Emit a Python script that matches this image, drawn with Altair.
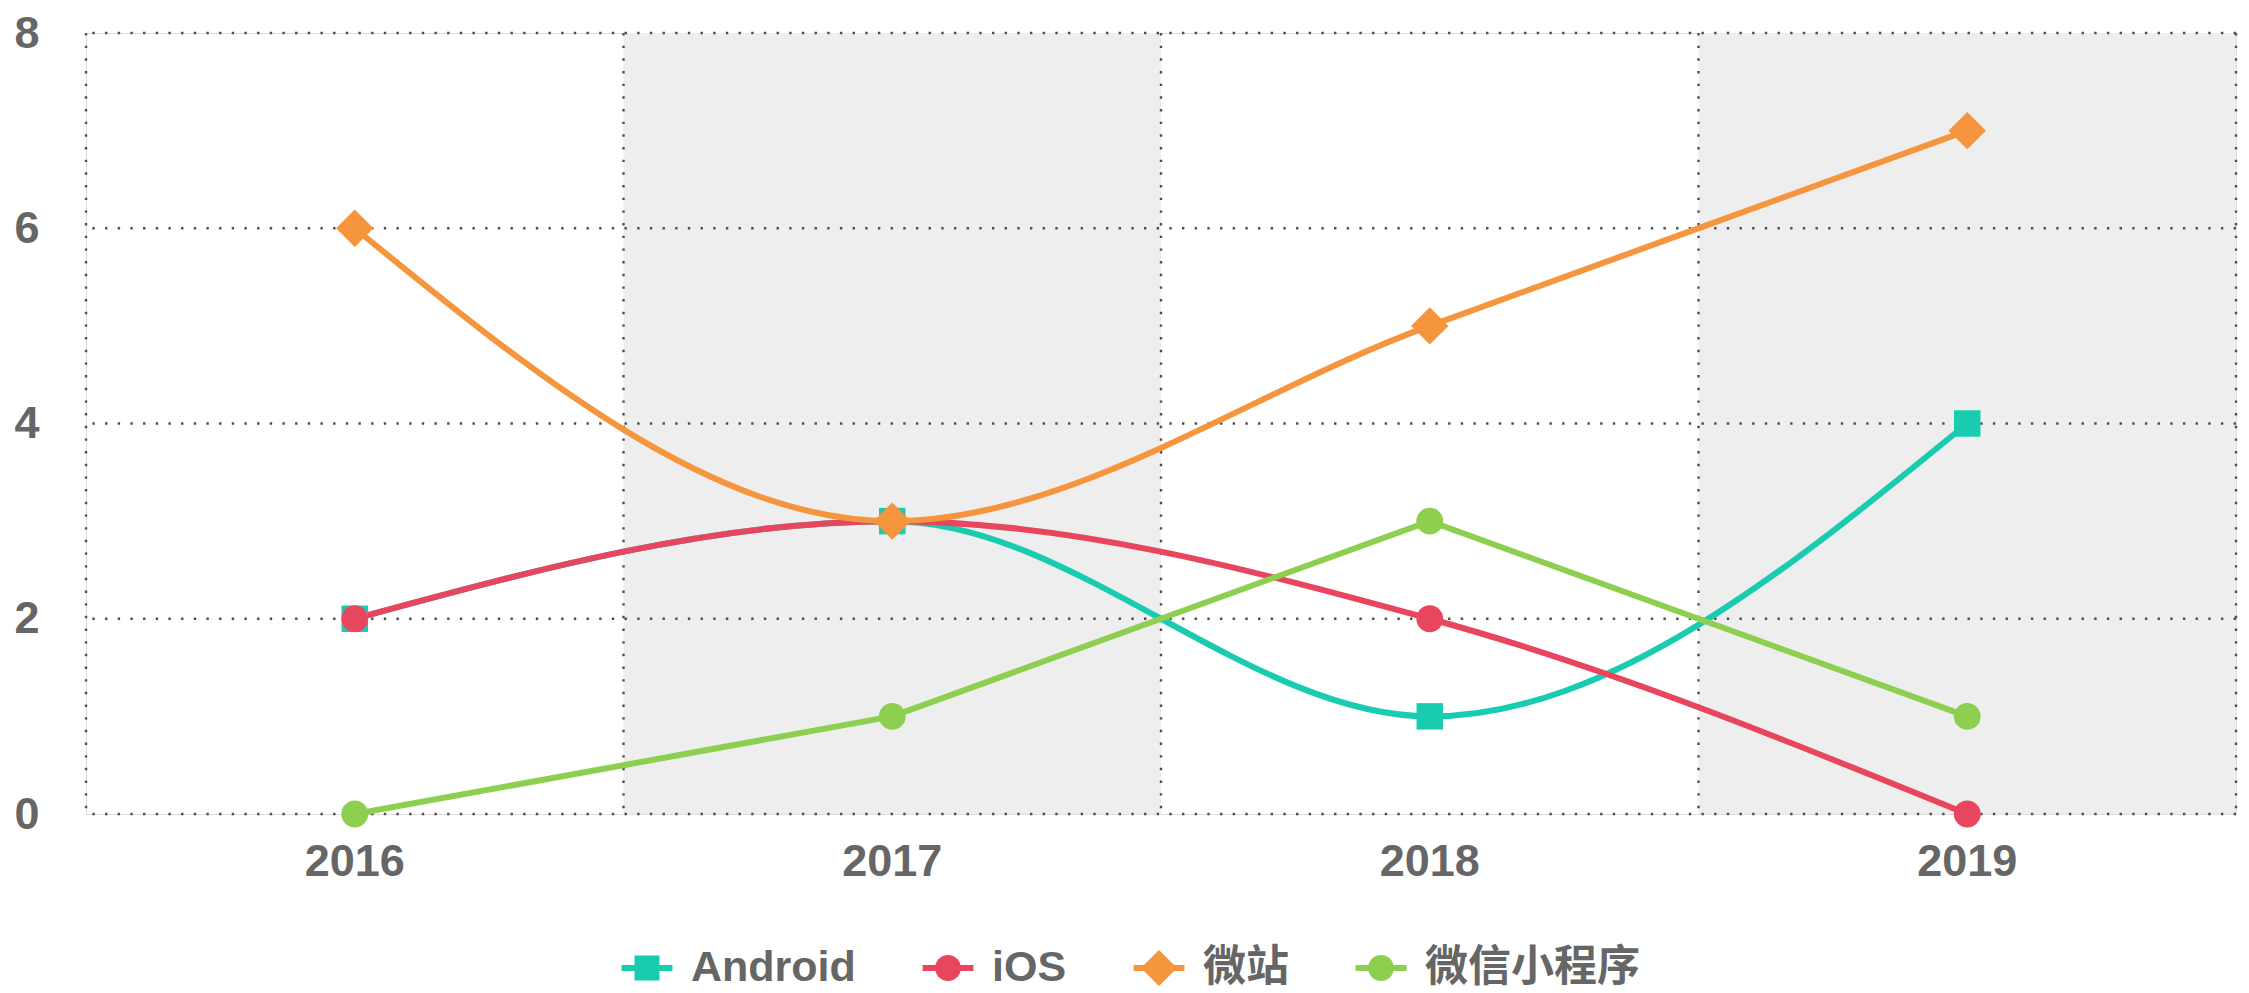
import altair as alt
import pandas as pd

years = ["2016", "2017", "2018", "2019"]
series = ["Android", "iOS", "微站", "微信小程序"]
android = [2, 3, 1, 4]
ios = [2, 3, 2, 0]
weizhan = [6, 3, 5, 7]
miniprog = [0, 1, 3, 1]
shaded_years = ["2017", "2019"]
y_ticks = [0, 2, 4, 6, 8]

colors = ["#1ACCAF", "#E8465F", "#F5963F", "#8DCF4F"]
marker_shapes = ["square", "circle", "diamond", "circle"]
marker_sizes = [700, 720, 1400, 720]
curved = [True, True, True, False]

# legend symbols: line through marker (custom paths in [-1,1] units)
bar = "M-1.06,-0.125H1.06V0.125H-1.06Z "
legend_paths = [
    bar + "M-0.52,-0.52H0.52V0.52H-0.52Z",
    bar + "M-0.54,0A0.54,0.54 0 1,1 0.54,0A0.54,0.54 0 1,1 -0.54,0Z",
    bar + "M0,-0.75L0.75,0L0,0.75L-0.75,0Z",
    bar + "M-0.54,0A0.54,0.54 0 1,1 0.54,0A0.54,0.54 0 1,1 -0.54,0Z",
]

rows = []
for name, vals in zip(series, [android, ios, weizhan, miniprog]):
    for yr, v in zip(years, vals):
        rows.append({"year": yr, "series": name, "value": v})
df = pd.DataFrame(rows)
years_df = pd.DataFrame({"year": years})
shade_df = pd.DataFrame({"year": shaded_years})
ytick_df = pd.DataFrame({"value": y_ticks})
last_df = pd.DataFrame({"year": years[-1:]})

FONT = "Liberation Sans, Arial, Noto Sans CJK SC"
GRID = "#4d4d4d"
DASH = [2.4, 10.27]
FS = 45

xscale = alt.Scale(domain=years, paddingInner=0, paddingOuter=0)
yscale = alt.Scale(domain=[0, 8], nice=False, zero=True)
cscale = alt.Scale(domain=series, range=colors)

x_axis = alt.Axis(title=None, labelAngle=0, ticks=False, domain=False, grid=False,
                  labelPadding=25, labelFont=FONT, labelFontSize=FS,
                  labelFontWeight="bold", labelColor="#666666")
y_axis = alt.Axis(title=None, ticks=False, domain=False, grid=False, values=y_ticks,
                  format="d", labelPadding=47, labelFont=FONT, labelFontSize=FS,
                  labelFontWeight="bold", labelColor="#666666")

shade = alt.Chart(shade_df).mark_rect(color="#EEEEEE").encode(
    x=alt.X("year:N", scale=xscale, axis=x_axis)
)

vgrid = alt.Chart(years_df).mark_rule(color=GRID, strokeWidth=2.4, strokeDash=DASH).encode(
    x=alt.X("year:N", scale=xscale, bandPosition=0)
)
vgrid_end = alt.Chart(last_df).mark_rule(color=GRID, strokeWidth=2.4, strokeDash=DASH).encode(
    x=alt.X("year:N", scale=xscale, bandPosition=1)
)
hgrid = alt.Chart(ytick_df).mark_rule(color=GRID, strokeWidth=2.4, strokeDash=DASH).encode(
    y=alt.Y("value:Q", scale=yscale, axis=y_axis)
)

layers = [shade, vgrid, vgrid_end, hgrid]

for name, col, is_curved in zip(series, colors, curved):
    line = alt.Chart(df).transform_filter(alt.datum.series == name).mark_line(
        strokeWidth=6, color=col,
        interpolate="monotone" if is_curved else "linear"
    ).encode(
        x=alt.X("year:N", scale=xscale),
        y=alt.Y("value:Q", scale=yscale),
    )
    layers.append(line)

for name, col, shp, sz in zip(series, colors, marker_shapes, marker_sizes):
    pts = alt.Chart(df).transform_filter(alt.datum.series == name).mark_point(
        filled=True, opacity=1, shape=shp, size=sz, strokeWidth=0, color=col
    ).encode(
        x=alt.X("year:N", scale=xscale),
        y=alt.Y("value:Q", scale=yscale),
    )
    layers.append(pts)

legend_layer = alt.Chart(df).mark_point(
    filled=True, opacity=1, size=2304, strokeWidth=0
).encode(
    x=alt.X("year:N", scale=xscale),
    y=alt.Y("value:Q", scale=yscale),
    color=alt.Color("series:N", scale=cscale, legend=alt.Legend(
        title=None, orient="none", direction="horizontal",
        legendX=537, legendY=911, padding=0,
        labelFont=FONT, labelFontSize=43, labelFontWeight="bold",
        labelColor="#666666", labelLimit=500, labelOffset=20,
        columnPadding=66, symbolSize=2304, symbolStrokeWidth=0,
    )),
    shape=alt.Shape("series:N", scale=alt.Scale(domain=series, range=legend_paths)),
    size=alt.value(0),
)
layers.append(legend_layer)

chart = alt.layer(*layers).properties(
    width=2150, height=781,
    padding={"left": 5, "top": 3, "right": 0, "bottom": 0},
).configure_view(stroke=None).configure(background="white")

chart.save("out.html", embed_options={"renderer": "svg", "actions": False})
